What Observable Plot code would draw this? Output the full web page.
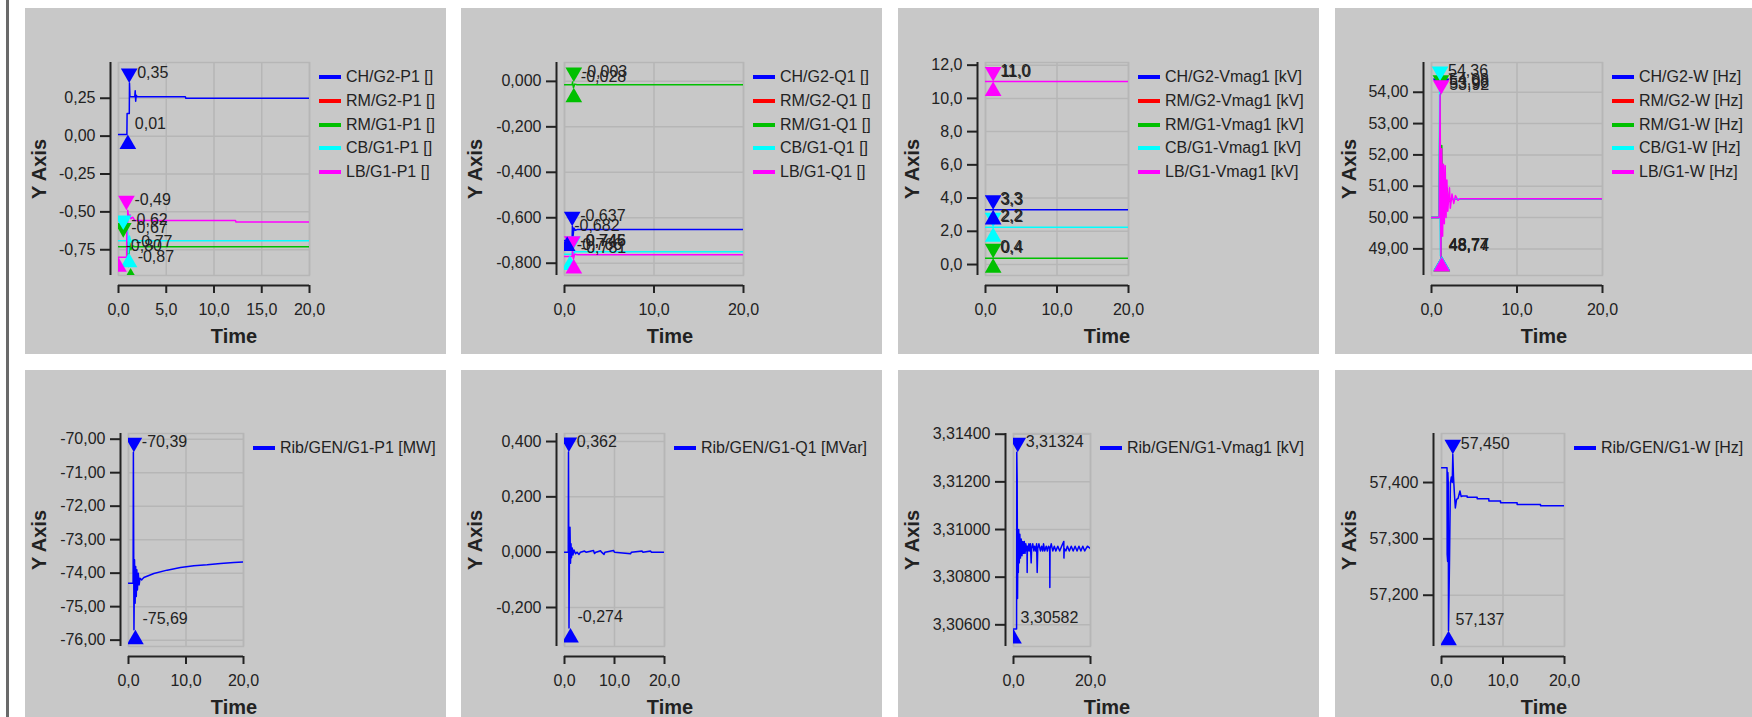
<!DOCTYPE html>
<html><head><meta charset="utf-8">
<script src="https://cdn.jsdelivr.net/npm/d3@7"></script>
<script src="https://cdn.jsdelivr.net/npm/@observablehq/plot@0.6"></script>
<style>
html,body{margin:0;padding:0;background:#fff;overflow:hidden;}
#root{position:relative;width:1752px;height:717px;overflow:hidden;font-family:"Liberation Sans",Arial,sans-serif;}
.bar{position:absolute;left:6px;top:0;width:3px;height:717px;background:#6a6a6a;}
.panel{position:absolute;width:421px;background:#c8c8c8;overflow:hidden;}
.panel svg{position:absolute;left:0;top:0;}
.ttl{position:absolute;font-weight:bold;font-size:20px;color:#222;white-space:nowrap;line-height:1;transform:translate(-50%,-50%);}
.ttl.rot{transform:translate(-50%,-50%) rotate(-90deg);}
.row{position:absolute;white-space:nowrap;display:flex;align-items:center;height:20px;font-size:16px;line-height:20px;color:#222;}
.sw{width:22px;height:4px;margin-right:5px;flex:none;}
</style></head>
<body><div id="root"></div>
<script>
// ---------- shared ----------
const timeDomain = [0, 20];
const timeTicksA = [0, 5, 10, 15, 20];
const timeTicksB = [0, 10, 20];
const timeTicksC = [0, 20];
const seriesKeys = ["CH", "RM2", "RM1", "CB", "LB"];
const COLORS = {CH: "#0000ff", RM2: "#ff0000", RM1: "#00c000", CB: "#00ffff", LB: "#ff00ff"};

// ---------- Panel 1: P1 ----------
const p1Names = ["CH/G2-P1 []", "RM/G2-P1 []", "RM/G1-P1 []", "CB/G1-P1 []", "LB/G1-P1 []"];
const p1YTicks = [-0.75, -0.5, -0.25, 0, 0.25];
const p1CH = [[0,0.01],[0.88,0.01],[0.9,0.15],[1.13,0.15],[1.15,0.35],[1.2,0.26],[1.7,0.26],[1.75,0.30],[1.8,0.23],[1.85,0.27],[1.95,0.26],[7.0,0.26],[7.05,0.25],[20,0.25]];
const p1RM2 = [];
const p1RM1 = [[0,-0.73],[0.88,-0.73],[0.95,-0.67],[1.05,-0.86],[1.15,-0.70],[1.3,-0.75],[1.5,-0.725],[1.7,-0.73],[20,-0.73]];
const p1CB = [[0,-0.69],[0.88,-0.69],[0.95,-0.62],[1.05,-0.77],[1.15,-0.66],[1.3,-0.70],[1.5,-0.685],[1.7,-0.69],[20,-0.69]];
const p1LB = [[0,-0.80],[0.85,-0.80],[0.87,-0.60],[0.95,-0.60],[0.97,-0.49],[1.05,-0.53],[1.2,-0.52],[1.3,-0.545],[1.5,-0.535],[1.7,-0.557],[12.25,-0.557],[12.3,-0.567],[20,-0.567]];
const p1Max = [["CH",1.12,0.35],["RM1",0.5,-0.67],["CB",0.5,-0.62],["LB",0.83,-0.49]];
const p1Min = [["CH",0.98,0.01],["RM1",1.27,-0.87],["CB",1.1,-0.77],["LB",0,-0.80]];

// ---------- Panel 2: Q1 ----------
const p2Names = ["CH/G2-Q1 []", "RM/G2-Q1 []", "RM/G1-Q1 []", "CB/G1-Q1 []", "LB/G1-Q1 []"];
const p2YTicks = [-0.8, -0.6, -0.4, -0.2, 0];
const p2CH = [[0,-0.70],[0.85,-0.70],[0.88,-0.637],[0.95,-0.682],[1.05,-0.645],[1.2,-0.655],[1.4,-0.652],[20,-0.652]];
const p2RM2 = [];
const p2RM1 = [[0,-0.015],[0.85,-0.015],[0.9,-0.003],[1.0,-0.028],[1.15,-0.012],[1.4,-0.015],[20,-0.015]];
const p2CB = [[0,-0.76],[0.85,-0.76],[0.9,-0.746],[1.0,-0.766],[1.15,-0.748],[1.4,-0.75],[20,-0.75]];
const p2LB = [[0,-0.77],[0.85,-0.77],[0.9,-0.745],[1.0,-0.781],[1.15,-0.76],[1.4,-0.763],[20,-0.763]];
const p2Max = [["CH",0.86,-0.637],["RM1",1.04,-0.003],["CB",0.9,-0.746],["LB",0.86,-0.745]];
const p2Min = [["CH",0.3,-0.682],["RM1",1.04,-0.028],["CB",0.6,-0.766],["LB",1.04,-0.781]];

// ---------- Panel 3: Vmag1 ----------
const p3Names = ["CH/G2-Vmag1 [kV]", "RM/G2-Vmag1 [kV]", "RM/G1-Vmag1 [kV]", "CB/G1-Vmag1 [kV]", "LB/G1-Vmag1 [kV]"];
const p3YTicks = [0, 2, 4, 6, 8, 10, 12];
const p3CH = [[0,3.29],[20,3.29]];
const p3RM2 = [];
const p3RM1 = [[0,0.38],[20,0.38]];
const p3CB = [[0,2.24],[20,2.24]];
const p3LB = [[0,11.02],[20,11.02]];
const p3Max = [["CH",1.07,3.29],["RM1",1.07,0.38],["CB",1.07,2.24],["LB",1.07,11.02]];
const p3Min = [["CH",1.07,3.29],["RM1",1.07,0.38],["CB",1.07,2.24],["LB",1.07,11.02]];

// ---------- Panel 4: W ----------
const p4Names = ["CH/G2-W [Hz]", "RM/G2-W [Hz]", "RM/G1-W [Hz]", "CB/G1-W [Hz]", "LB/G1-W [Hz]"];
const p4YTicks = [49, 50, 51, 52, 53, 54];
const p4CH = [[0,50.0],[0.9,50.0],[1.0,53.98],[1.08,48.77],[1.2,51.5],[1.35,50.2],[1.5,50.9],[1.7,50.4],[2.0,50.6],[20,50.6]];
const p4RM2 = [];
const p4RM1 = [[0,50.0],[0.9,50.0],[0.98,54.08],[1.1,48.74],[1.2,52.3],[1.3,50.4],[1.45,51.0],[1.6,50.4],[1.8,50.95],[2.0,50.5],[2.3,50.6],[20,50.6]];
const p4CB = [[0,50.0],[0.9,50.0],[0.95,54.36],[1.05,48.77],[1.15,50.9],[1.25,50.2],[1.4,50.7],[1.6,50.5],[2.0,50.6],[20,50.6]];
const p4LB = [[0,50.0],[0.9,50.0],[1.0,53.92],[1.1,48.74],[1.2,52.2],[1.3,49.4],[1.4,51.7],[1.5,49.8],[1.6,51.65],[1.7,50.0],[1.8,51.2],[1.9,50.2],[2.0,50.6],[2.1,50.95],[2.2,50.3],[2.4,50.75],[2.6,50.45],[2.8,50.7],[3.1,50.55],[3.3,50.6],[20,50.6]];
const p4Max = [["CH",1.13,53.98],["RM1",1.1,54.08],["CB",1.0,54.36],["LB",1.13,53.92]];
const p4Min = [["CH",1.2,48.77],["RM1",1.2,48.74],["CB",1.2,48.77],["LB",1.2,48.74]];

// ---------- Panel 5: Rib P1 ----------
const p5Names = ["Rib/GEN/G1-P1 [MW]"];
const p5YTicks = [-76, -75, -74, -73, -72, -71, -70];
const p5Data = [[0,-74.3],[0.8,-74.3],[0.85,-70.39],[0.95,-75.69],[1.05,-73.6],[1.15,-74.9],[1.25,-73.8],[1.35,-74.7],[1.45,-73.9],[1.55,-74.5],[1.7,-74.0],[1.85,-74.35],[2.0,-74.15],[2.3,-74.2],[2.67,-74.13],[4.41,-74.01],[6.72,-73.91],[9.04,-73.83],[11.36,-73.78],[13.68,-73.75],[16.0,-73.71],[18.3,-73.68],[20,-73.67]];
const p5Max = [["CH",0.93,-70.39]];
const p5Min = [["CH",1.2,-75.69]];

// ---------- Panel 6: Rib Q1 ----------
const p6Names = ["Rib/GEN/G1-Q1 [MVar]"];
const p6YTicks = [-0.2, 0, 0.2, 0.4];
const p6Data = [[0,0],[0.75,0],[0.8,0.362],[0.9,-0.274],[1.0,0.04],[1.1,0.09],[1.2,-0.04],[1.3,0.03],[1.4,-0.02],[1.55,0.015],[1.7,-0.01],[1.9,0.008],[2.2,-0.006],[2.5,0],[2.9,-0.008],[3.2,0],[4.0,0.004],[4.3,0],[5.8,0.006],[6.0,-0.005],[6.3,0],[7.2,0.005],[7.4,0],[7.9,-0.008],[8.1,0],[9.8,0.006],[10,0],[13.2,-0.006],[13.4,0],[15.5,0.004],[15.7,0],[17.2,0.004],[17.4,0],[20,0]];
const p6Max = [["CH",0.87,0.362]];
const p6Min = [["CH",1.2,-0.274]];

// ---------- Panel 7: Rib Vmag1 ----------
const p7Names = ["Rib/GEN/G1-Vmag1 [kV]"];
const p7YTicks = [3.306, 3.308, 3.31, 3.312, 3.314];
const p7Data = [[0,3.30582],[0.8,3.30582],[0.85,3.31324],[0.95,3.3121],[1.05,3.3071],[1.15,3.3099],[1.25,3.3082],[1.35,3.3100],[1.5,3.3086],[1.65,3.3098],[1.8,3.3088],[2.0,3.3096],[2.2,3.3089],[2.4,3.3095],[2.6,3.3090],[2.8,3.3095],[3.0,3.3090],[3.2,3.3094],[3.4,3.3091],[3.5,3.3093],[3.55,3.3082],[3.6,3.3093],[3.8,3.3091],[4.0,3.3094],[4.2,3.3091],[4.4,3.3094],[4.59,3.3086],[4.7,3.3092],[5.0,3.3094],[5.3,3.3091],[5.5,3.3093],[5.8,3.3091],[6.0,3.3094],[6.15,3.3082],[6.3,3.3092],[6.6,3.3094],[7.0,3.3091],[7.3,3.3093],[7.6,3.3091],[7.8,3.3094],[8.1,3.3091],[8.5,3.3093],[8.8,3.3091],[9.1,3.3093],[9.4,3.3092],[9.44,3.30757],[9.5,3.3092],[9.8,3.3094],[10.2,3.3091],[10.6,3.3093],[11.0,3.3091],[11.5,3.3093],[12.0,3.3091],[12.5,3.3093],[13.07,3.3095],[13.1,3.3088],[13.2,3.3092],[13.6,3.3091],[14.0,3.3093],[14.5,3.3091],[15.0,3.3093],[15.5,3.3091],[16.0,3.3093],[16.5,3.3091],[17.0,3.3093],[17.5,3.3091],[18.0,3.3093],[18.5,3.3091],[19.2,3.3093],[20,3.3092]];
const p7Max = [["CH",1.1,3.31324]];
const p7Min = [["CH",0,3.30582]];

// ---------- Panel 8: Rib W ----------
const p8Names = ["Rib/GEN/G1-W [Hz]"];
const p8YTicks = [57.2, 57.3, 57.4];
const p8Data = [[0,57.426],[0.9,57.426],[0.92,57.273],[1.0,57.26],[1.03,57.418],[1.1,57.40],[1.14,57.137],[1.3,57.26],[1.45,57.40],[1.6,57.41],[1.75,57.40],[1.84,57.45],[1.95,57.41],[2.1,57.38],[2.25,57.355],[2.45,57.37],[2.7,57.372],[3.0,57.385],[3.2,57.375],[3.4,57.376],[4.17,57.376],[4.17,57.374],[5.8,57.374],[5.8,57.371],[7.7,57.371],[7.7,57.367],[9.6,57.367],[9.6,57.364],[12.3,57.364],[12.3,57.361],[16.1,57.361],[16.1,57.359],[20,57.359]];
const p8Max = [["CH",1.84,57.45]];
const p8Min = [["CH",1.14,57.137]];

// ---------- layout ----------
const panels = [
  {left:25,  top:8, h:346, plotL:93,  plotR:284, plotT:54, plotB:267, yDomain:[-0.92,0.486], yTicks:p1YTicks, yDec:2, xTicks:timeTicksA, names:p1Names, data:{CH:p1CH,RM2:p1RM2,RM1:p1RM1,CB:p1CB,LB:p1LB}, max:p1Max, min:p1Min},
  {left:461, top:8, h:346, plotL:103, plotR:282, plotT:54, plotB:267, yDomain:[-0.854,0.083], yTicks:p2YTicks, yDec:3, xTicks:timeTicksB, names:p2Names, data:{CH:p2CH,RM2:p2RM2,RM1:p2RM1,CB:p2CB,LB:p2LB}, max:p2Max, min:p2Min},
  {left:898, top:8, h:346, plotL:87,  plotR:230, plotT:54, plotB:267, yDomain:[-0.66,12.16], yTicks:p3YTicks, yDec:1, xTicks:timeTicksB, names:p3Names, data:{CH:p3CH,RM2:p3RM2,RM1:p3RM1,CB:p3CB,LB:p3LB}, max:p3Max, min:p3Min},
  {left:1335,top:8, h:346, plotL:96,  plotR:267, plotT:54, plotB:267, yDomain:[48.15,54.95], yTicks:p4YTicks, yDec:2, xTicks:timeTicksB, names:p4Names, data:{CH:p4CH,RM2:p4RM2,RM1:p4RM1,CB:p4CB,LB:p4LB}, max:p4Max, min:p4Min},
  {left:25,  top:370, h:347, plotL:103, plotR:218, plotT:63, plotB:276, yDomain:[-76.19,-69.83], yTicks:p5YTicks, yDec:2, xTicks:timeTicksB, names:p5Names, data:{CH:p5Data}, max:p5Max, min:p5Min},
  {left:461, top:370, h:347, plotL:103, plotR:203, plotT:63, plotB:276, yDomain:[-0.341,0.429], yTicks:p6YTicks, yDec:3, xTicks:timeTicksB, names:p6Names, data:{CH:p6Data}, max:p6Max, min:p6Min},
  {left:898, top:370, h:347, plotL:115, plotR:192, plotT:63, plotB:276, yDomain:[3.30509,3.31403], yTicks:p7YTicks, yDec:5, xTicks:timeTicksC, names:p7Names, data:{CH:p7Data}, max:p7Max, min:p7Min},
  {left:1335,top:370, h:347, plotL:106, plotR:229, plotT:63, plotB:276, yDomain:[57.109,57.487], yTicks:p8YTicks, yDec:3, xTicks:timeTicksB, names:p8Names, data:{CH:p8Data}, max:p8Max, min:p8Min}
];

const GRID = "#b6b6b6", INK = "#222";
const PW = 421;
const TRI_R = 6.2;
// triangles with the tip at the data point
const triDown = {draw(ctx, size) { const s = Math.sqrt(size), w = 0.76 * s, h = 1.32 * s; ctx.moveTo(0, 0); ctx.lineTo(-w, -h); ctx.lineTo(w, -h); ctx.closePath(); }};
const triUp = {draw(ctx, size) { const s = Math.sqrt(size), w = 0.76 * s, h = 1.32 * s; ctx.moveTo(0, 0); ctx.lineTo(-w, h); ctx.lineTo(w, h); ctx.closePath(); }};

const root = document.getElementById("root");
const bar = document.createElement("div"); bar.className = "bar"; root.appendChild(bar);

for (const p of panels) {
  const div = document.createElement("div");
  div.className = "panel";
  div.style.left = p.left + "px"; div.style.top = p.top + "px"; div.style.height = p.h + "px";
  const fy = v => v.toFixed(p.yDec).replace(".", ",");
  const fx = v => v.toFixed(1).replace(".", ",");
  const X = d => d[1], Y = d => d[2];
  const marks = [
    Plot.gridX(p.xTicks, {stroke: GRID, strokeOpacity: 1, strokeWidth: 1.5}),
    Plot.gridY(p.yTicks, {stroke: GRID, strokeOpacity: 1, strokeWidth: 1.5}),
    Plot.frame({stroke: GRID, strokeWidth: 1.5})
  ];
  for (const k of seriesKeys) {
    const d = p.data[k];
    if (d && d.length) marks.push(Plot.line(d, {x: r => r[0], y: r => r[1], stroke: COLORS[k], strokeWidth: 1.5, clip: true}));
  }
  for (const m of p.max) marks.push(Plot.dot([m], {x: X, y: Y, symbol: triDown, r: TRI_R, fill: COLORS[m[0]], clip: true}));
  for (const m of p.min) marks.push(Plot.dot([m], {x: X, y: Y, symbol: triUp, r: TRI_R, fill: COLORS[m[0]], clip: true}));
  marks.push(Plot.text(p.max, {x: X, y: Y, text: d => fy(d[2]), textAnchor: "start", dx: 8, dy: -10, fill: INK, fontSize: 16}));
  marks.push(Plot.text(p.min, {x: X, y: Y, text: d => fy(d[2]), textAnchor: "start", dx: 7, dy: -11, fill: INK, fontSize: 16}));
  marks.push(Plot.ruleX([timeDomain[0]], {dx: -8, stroke: INK, strokeWidth: 2}));
  marks.push(Plot.ruleY([p.yDomain[0]], {dy: 10, stroke: INK, strokeWidth: 2}));
  marks.push(Plot.axisY(p.yTicks, {anchor: "left", tickFormat: fy, tickSize: 10, tickPadding: 5, dx: -8, label: null, strokeWidth: 2, fontSize: 16}));
  marks.push(Plot.axisX(p.xTicks, {anchor: "bottom", tickFormat: fx, tickSize: 8, tickPadding: 10, dy: 10, label: null, strokeWidth: 2, fontSize: 16}));

  const svg = Plot.plot({
    width: PW, height: p.h,
    marginTop: p.plotT, marginBottom: p.h - p.plotB, marginLeft: p.plotL, marginRight: PW - p.plotR,
    x: {domain: timeDomain},
    y: {domain: p.yDomain},
    style: {background: "transparent", fontFamily: '"Liberation Sans", Arial, sans-serif', fontSize: "16px", color: INK, overflow: "visible"},
    marks
  });
  div.appendChild(svg);

  // axis titles
  const yt = document.createElement("div");
  yt.className = "ttl rot"; yt.textContent = "Y Axis";
  yt.style.left = "14px"; yt.style.top = ((p.plotT + p.plotB) / 2) + "px";
  div.appendChild(yt);
  const xt = document.createElement("div");
  xt.className = "ttl"; xt.textContent = "Time";
  xt.style.left = "209px"; xt.style.top = (p.plotB + 60.5) + "px";
  div.appendChild(xt);

  // legend
  p.names.forEach((name, i) => {
    const row = document.createElement("div");
    row.className = "row";
    row.style.left = (p.plotR + 10) + "px";
    row.style.top = (p.plotT + 15 + i * 23.75 - 10) + "px";
    const sw = document.createElement("span"); sw.className = "sw"; sw.style.background = COLORS[seriesKeys[i]];
    const tx = document.createElement("span"); tx.textContent = name;
    row.appendChild(sw); row.appendChild(tx);
    div.appendChild(row);
  });
  root.appendChild(div);
}
</script></body></html>
